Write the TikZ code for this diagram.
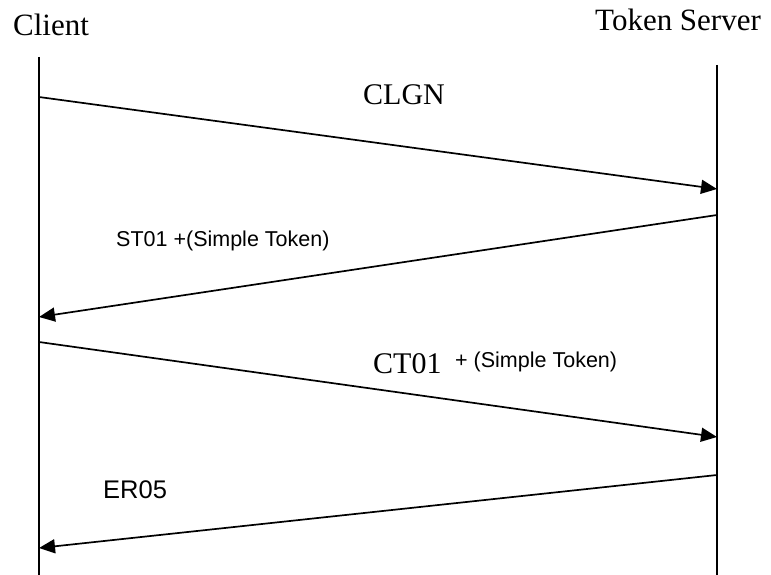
\documentclass[tikz,border=0pt]{standalone}
\usepackage{fontspec}
\setmainfont{Liberation Serif}
\newfontfamily\labelsans{Liberation Sans}
\usetikzlibrary{arrows.meta}
\tikzset{
  lifeline/.style={line width=1.8pt},
  msg/.style={line width=1.7pt, -{Triangle[length=16pt,width=14pt]}},
  actor/.style={inner sep=0pt, anchor=base west, font=\fontsize{31}{36}\selectfont},
  bigtag/.style={inner sep=0pt, anchor=base west, font=\fontsize{30}{36}\selectfont},
  smalltag/.style={inner sep=0pt, anchor=base west, font=\labelsans\fontsize{21.5}{25}\selectfont},
  errtag/.style={inner sep=0pt, anchor=base west, font=\labelsans\fontsize{25.5}{30}\selectfont}
}
\begin{document}
\begin{tikzpicture}[x=1pt,y=-1pt]
\useasboundingbox (0,0) rectangle (771,575);
% participants
\node[actor] (client) at (13,36) {Client};
\node[actor] (server) at (595,31) {Token Server};
% lifelines
\coordinate (ctop) at (39,57);
\coordinate (cbot) at (39,575);
\coordinate (stop) at (717,65);
\coordinate (sbot) at (717,575);
\draw[lifeline] (ctop) -- (cbot);
\draw[lifeline] (stop) -- (sbot);
% message end points on the lifelines
\coordinate (m1a) at (39,97);   \coordinate (m1b) at (717,189);
\coordinate (m2a) at (717,215); \coordinate (m2b) at (39,317);
\coordinate (m3a) at (39,342);  \coordinate (m3b) at (717,437);
\coordinate (m4a) at (717,475); \coordinate (m4b) at (39,548);
% messages
\draw[msg] (m1a) -- (m1b);
\draw[msg] (m2a) -- (m2b);
\draw[msg] (m3a) -- (m3b);
\draw[msg] (m4a) -- (m4b);
% labels
\node[bigtag] (clgn) at (363,105) {CLGN};
\node[smalltag] (st01) at (116,246) {ST01 +(Simple Token)};
\node[bigtag] (ct01) at (373,373) {CT01};
\node[smalltag] (ct01tok) at (455,367) {+ (Simple Token)};
\node[errtag] (er05) at (103,498) {ER05};
\end{tikzpicture}
\end{document}
